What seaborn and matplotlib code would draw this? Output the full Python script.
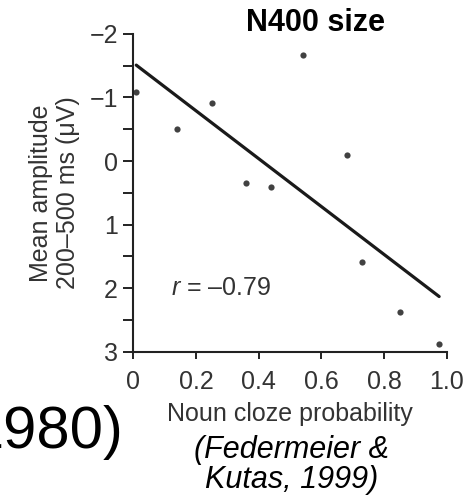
import matplotlib
matplotlib.use("Agg")
import matplotlib.pyplot as plt
import seaborn as sns
import pandas as pd

# values (y axis is inverted: negative up)
cloze = [0.01, 0.14, 0.25, 0.36, 0.44, 0.54, 0.68, 0.73, 0.85, 0.975]
amplitude = [-1.09, -0.50, -0.92, 0.34, 0.41, -1.67, -0.10, 1.58, 2.37, 2.88]
x_ticks = [0, 0.2, 0.4, 0.6, 0.8, 1.0]
x_tick_labels = ["0", "0.2", "0.4", "0.6", "0.8", "1.0"]
y_ticks = [-2, -1, 0, 1, 2, 3]
y_tick_labels = ["\u22122", "\u22121", "0", "1", "2", "3"]

df = pd.DataFrame({"cloze": cloze, "amp": amplitude})

sns.set_style("ticks")
plt.rcParams["font.family"] = ["Liberation Sans", "DejaVu Sans"]
plt.rcParams["mathtext.fontset"] = "custom"
plt.rcParams["mathtext.it"] = "Liberation Sans:italic"
plt.rcParams["mathtext.rm"] = "Liberation Sans"

fig = plt.figure(figsize=(4.72, 4.97), dpi=100)
ax = fig.add_axes([0.282, 0.292, 0.665, 0.640])

sns.regplot(x="cloze", y="amp", data=df, ci=None, ax=ax,
            scatter_kws={"s": 20, "color": "#111111", "linewidths": 0},
            line_kws={"color": "#1a1a1a", "lw": 2.3})

ax.set_xlim(0, 1.0)
ax.set_ylim(3, -2)
ax.set_xticks(x_ticks)
ax.set_xticklabels(x_tick_labels)
ax.set_yticks(y_ticks)
ax.set_yticklabels(y_tick_labels)
ax.set_yticks([-1.5, -0.5, 0.5, 1.5, 2.5], minor=True)
ax.tick_params(axis="both", which="both", direction="out", width=1.4,
               color="#222222", labelsize=18, labelcolor="#333333")
ax.tick_params(axis="y", which="both", length=7, pad=4)
ax.tick_params(axis="x", which="major", length=5, pad=8)
sns.despine(ax=ax)
for s in ["left", "bottom"]:
    ax.spines[s].set_linewidth(1.5)
    ax.spines[s].set_color("#222222")

ax.set_xlabel("Noun cloze probability", fontsize=18, color="#333333", labelpad=6)
ax.set_ylabel("Mean amplitude\n200\u2013500 ms (\u03bcV)", fontsize=18,
              color="#333333", labelpad=7, linespacing=1.15)

ax.text(0.12, 2.0, "$\\it{r}$ = \u20130.79",
        fontsize=18, color="#333333", va="center", ha="left")

fig.text(315 / 472, 1 - 23 / 497, "N400 size", fontsize=22, fontweight="bold",
         ha="center", va="center", color="black")
fig.text(123 / 472, 1 - 432 / 497, "1980)", fontsize=43, ha="right",
         va="center", color="black")
fig.text(292 / 472, 1 - 465 / 497, "(Federmeier &\nKutas, 1999)", fontsize=22,
         fontstyle="italic", ha="center", va="center", color="black",
         linespacing=1.0)

fig.savefig("out.png", dpi=100)
